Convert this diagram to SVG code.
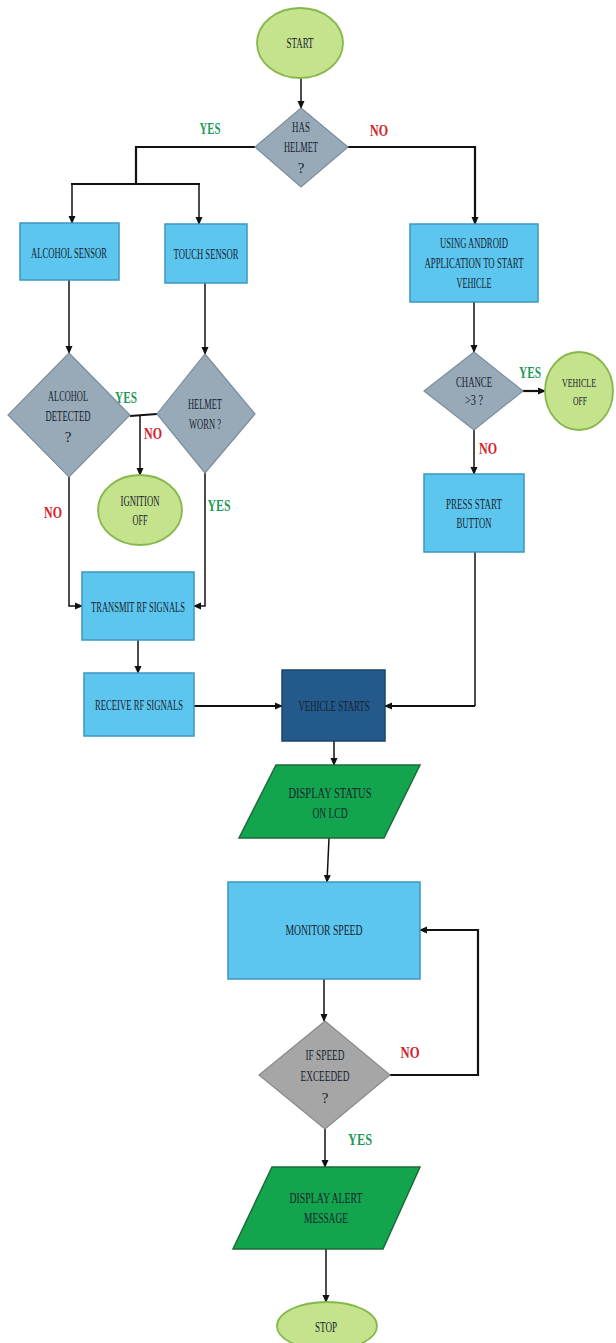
<svg xmlns="http://www.w3.org/2000/svg" width="616" height="1343" viewBox="0 0 616 1343">
<style>
.box{fill:#5cc6ee;stroke:#3d97c2;stroke-width:1.5}
.dark{fill:#23598b;stroke:#1a446b;stroke-width:1.5}
.dia{fill:#98aab8;stroke:#7a8e9e;stroke-width:1.2}
.gdia{fill:#a6a6a6;stroke:#8a8a8a;stroke-width:1.2}
.term{fill:#c4e38c;stroke:#85b84a;stroke-width:1.8}
.io{fill:#13a54d;stroke:#1c6a3a;stroke-width:1.5}
text{font-family:"Liberation Serif","Times New Roman",serif;text-anchor:middle}
.t{font-size:15px;fill:#17222e}
.s{font-size:13px}
.yes{font-size:17px;fill:#1f9a5a;font-weight:bold}
.no{font-size:17px;fill:#d3222c;font-weight:bold}
.c{fill:none;stroke:#111;stroke-width:1.5}
.cb{fill:none;stroke:#111;stroke-width:2.2}
</style>
<defs>
<marker id="ah" markerWidth="8" markerHeight="8" refX="7" refY="4" orient="auto" markerUnits="userSpaceOnUse">
<path d="M0,0.5 L8,4 L0,7.5 Z" fill="#111"/>
</marker>
</defs>
<rect width="616" height="1343" fill="#fff"/>
<g id="connectors">
<path class="c" d="M301,79 V108" marker-end="url(#ah)"/>
<path class="cb" d="M255,147 H136 V184"/>
<path class="cb" d="M71,184 H200"/>
<path class="c" d="M72,184 V223" marker-end="url(#ah)"/>
<path class="c" d="M199,184 V224" marker-end="url(#ah)"/>
<path class="cb" d="M348,147 H475 V224" marker-end="url(#ah)"/>
<path class="c" d="M69,280 V353" marker-end="url(#ah)"/>
<path class="c" d="M205,283 V354" marker-end="url(#ah)"/>
<path class="cb" d="M130,416 L157,414"/>
<path class="c" d="M140,415 V475" marker-end="url(#ah)"/>
<path class="c" d="M69,477 V606 H82" marker-end="url(#ah)"/>
<path class="c" d="M205,473 V606 H194" marker-end="url(#ah)"/>
<path class="c" d="M138,640 V673" marker-end="url(#ah)"/>
<path class="cb" d="M194,706 H282" marker-end="url(#ah)"/>
<path class="c" d="M474,302 V352" marker-end="url(#ah)"/>
<path class="cb" d="M523,391 H545" marker-end="url(#ah)"/>
<path class="c" d="M474,430 V474" marker-end="url(#ah)"/>
<path class="c" d="M475,552 V706"/>
<path class="cb" d="M475,706 H385" marker-end="url(#ah)"/>
<path class="c" d="M334,741 V765" marker-end="url(#ah)"/>
<path class="c" d="M329,838 L327,882" marker-end="url(#ah)"/>
<path class="c" d="M324,979 V1021" marker-end="url(#ah)"/>
<path class="cb" d="M390,1075 H478 V930 H420" marker-end="url(#ah)"/>
<path class="c" d="M325,1129 V1167" marker-end="url(#ah)"/>
<path class="c" d="M326,1249 V1302" marker-end="url(#ah)"/>
</g>
<g id="labels">
<text class="yes" x="210" y="134" textLength="21" lengthAdjust="spacingAndGlyphs">YES</text>
<text class="no" x="379" y="136" textLength="18" lengthAdjust="spacingAndGlyphs">NO</text>
<text class="yes" x="126" y="403" textLength="22" lengthAdjust="spacingAndGlyphs">YES</text>
<text class="no" x="153" y="439" textLength="18" lengthAdjust="spacingAndGlyphs">NO</text>
<text class="no" x="53" y="518" textLength="18" lengthAdjust="spacingAndGlyphs">NO</text>
<text class="yes" x="219" y="511" textLength="23" lengthAdjust="spacingAndGlyphs">YES</text>
<text class="yes" x="530" y="378" textLength="22" lengthAdjust="spacingAndGlyphs">YES</text>
<text class="no" x="488" y="454" textLength="18" lengthAdjust="spacingAndGlyphs">NO</text>
<text class="no" x="410" y="1058" textLength="19" lengthAdjust="spacingAndGlyphs">NO</text>
<text class="yes" x="360" y="1145" textLength="24" lengthAdjust="spacingAndGlyphs">YES</text>
</g>
<g id="start">
<ellipse class="term" cx="300" cy="43" rx="43" ry="35"/>
<text class="t" x="300" y="48" textLength="27" lengthAdjust="spacingAndGlyphs">START</text>
</g>
<g id="has-helmet">
<polygon class="dia" points="301,108 348,147 301,187 255,147"/>
<text class="t" x="301" y="132" textLength="18" lengthAdjust="spacingAndGlyphs">HAS</text>
<text class="t" x="301" y="152" textLength="34" lengthAdjust="spacingAndGlyphs">HELMET</text>
<text class="t" x="301" y="173">?</text>
</g>
<g id="alcohol-sensor">
<rect class="box" x="20" y="223" width="99" height="57"/>
<text class="t" x="69" y="258" textLength="76" lengthAdjust="spacingAndGlyphs">ALCOHOL SENSOR</text>
</g>
<g id="touch-sensor">
<rect class="box" x="165" y="224" width="82" height="59"/>
<text class="t" x="206" y="259" textLength="65" lengthAdjust="spacingAndGlyphs">TOUCH SENSOR</text>
</g>
<g id="android">
<rect class="box" x="410" y="224" width="128" height="78"/>
<text class="t" x="474" y="248" textLength="68" lengthAdjust="spacingAndGlyphs">USING ANDROID</text>
<text class="t" x="474" y="268" textLength="99" lengthAdjust="spacingAndGlyphs">APPLICATION TO START</text>
<text class="t" x="474" y="288" textLength="35" lengthAdjust="spacingAndGlyphs">VEHICLE</text>
</g>
<g id="alcohol-detected">
<polygon class="dia" points="69,353 130,415 69,477 8,415"/>
<text class="t" x="68" y="401" textLength="40" lengthAdjust="spacingAndGlyphs">ALCOHOL</text>
<text class="t" x="68" y="421" textLength="45" lengthAdjust="spacingAndGlyphs">DETECTED</text>
<text class="t" x="68" y="442">?</text>
</g>
<g id="helmet-worn">
<polygon class="dia" points="205,354 255,414 205,473 157,414"/>
<text class="t" x="205" y="409" textLength="34" lengthAdjust="spacingAndGlyphs">HELMET</text>
<text class="t" x="205" y="429" textLength="32" lengthAdjust="spacingAndGlyphs">WORN ?</text>
</g>
<g id="chance">
<polygon class="dia" points="474,352 523,391 474,430 424,391"/>
<text class="t" x="474" y="387" textLength="36" lengthAdjust="spacingAndGlyphs">CHANCE</text>
<text class="t" x="474" y="405" textLength="18" lengthAdjust="spacingAndGlyphs">&gt;3 ?</text>
</g>
<g id="vehicle-off">
<ellipse class="term" cx="579" cy="391" rx="34" ry="39"/>
<text class="t s" x="579" y="387" textLength="34" lengthAdjust="spacingAndGlyphs">VEHICLE</text>
<text class="t s" x="580" y="405" textLength="14" lengthAdjust="spacingAndGlyphs">OFF</text>
</g>
<g id="ignition-off">
<ellipse class="term" cx="140" cy="510" rx="42" ry="35"/>
<text class="t" x="140" y="506" textLength="39" lengthAdjust="spacingAndGlyphs">IGNITION</text>
<text class="t" x="140" y="525" textLength="15" lengthAdjust="spacingAndGlyphs">OFF</text>
</g>
<g id="press-start">
<rect class="box" x="424" y="474" width="100" height="78"/>
<text class="t" x="474" y="509" textLength="56" lengthAdjust="spacingAndGlyphs">PRESS START</text>
<text class="t" x="474" y="528" textLength="35" lengthAdjust="spacingAndGlyphs">BUTTON</text>
</g>
<g id="transmit">
<rect class="box" x="82" y="572" width="112" height="68"/>
<text class="t" x="138" y="612" textLength="94" lengthAdjust="spacingAndGlyphs">TRANSMIT RF SIGNALS</text>
</g>
<g id="receive">
<rect class="box" x="84" y="673" width="110" height="63"/>
<text class="t" x="139" y="710" textLength="88" lengthAdjust="spacingAndGlyphs">RECEIVE RF SIGNALS</text>
</g>
<g id="vehicle-starts">
<rect class="dark" x="282" y="670" width="103" height="71"/>
<text class="t" x="334" y="711" textLength="71" lengthAdjust="spacingAndGlyphs">VEHICLE  STARTS</text>
</g>
<g id="display-status">
<polygon class="io" points="276,765 420,765 384,838 239,838"/>
<text class="t" x="330" y="798" textLength="83" lengthAdjust="spacingAndGlyphs">DISPLAY  STATUS</text>
<text class="t" x="330" y="818" textLength="35" lengthAdjust="spacingAndGlyphs">ON LCD</text>
</g>
<g id="monitor-speed">
<rect class="box" x="228" y="882" width="192" height="97"/>
<text class="t" x="324" y="935" textLength="77" lengthAdjust="spacingAndGlyphs">MONITOR SPEED</text>
</g>
<g id="speed-exceeded">
<polygon class="gdia" points="325,1021 390,1075 325,1129 259,1075"/>
<text class="t" x="325" y="1060" textLength="39" lengthAdjust="spacingAndGlyphs">IF SPEED</text>
<text class="t" x="325" y="1081" textLength="49" lengthAdjust="spacingAndGlyphs">EXCEEDED</text>
<text class="t" x="325" y="1103">?</text>
</g>
<g id="display-alert">
<polygon class="io" points="272,1167 420,1167 383,1249 233,1249"/>
<text class="t" x="326" y="1203" textLength="73" lengthAdjust="spacingAndGlyphs">DISPLAY ALERT</text>
<text class="t" x="326" y="1223" textLength="44" lengthAdjust="spacingAndGlyphs">MESSAGE</text>
</g>
<g id="stop">
<ellipse class="term" cx="327" cy="1326" rx="50" ry="24"/>
<text class="t" x="326" y="1332" textLength="22" lengthAdjust="spacingAndGlyphs">STOP</text>
</g>
</svg>
